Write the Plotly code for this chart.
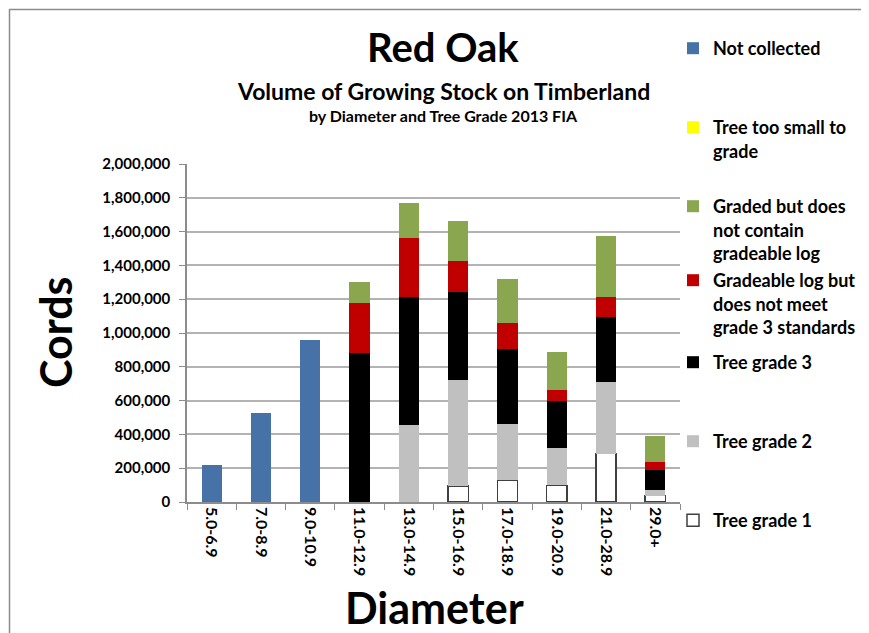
import plotly.graph_objects as go

categories = ["5.0-6.9", "7.0-8.9", "9.0-10.9", "11.0-12.9", "13.0-14.9",
              "15.0-16.9", "17.0-18.9", "19.0-20.9", "21.0-28.9", "29.0+"]
grade1 = [None, None, None, None, None, 95000, 130000, 99000, 287000, 38000]
grade2 = [None, None, None, None, 456000, 626000, 332000, 221000, 426000, 35000]
grade3 = [None, None, None, 883000, 759000, 522000, 445000, 275000, 384000, 119000]
gradeable_log = [None, None, None, 297000, 350000, 186000, 154000, 69000, 118000, 43000]
graded_no_log = [None, None, None, 120000, 205000, 235000, 257000, 225000, 358000, 156000]
too_small = [None] * 10
not_collected = [220000, 524000, 956000, None, None, None, None, None, None, None]

y_ticks = [0, 200000, 400000, 600000, 800000, 1000000, 1200000, 1400000, 1600000, 1800000, 2000000]

FONT = "Lato"
OFF = 8  # page body margin
W, H = 869 - OFF, 633 - OFF
L, T = 187 - OFF, 164 - OFF
R = W - (680 - OFF)
B = H - (502 - OFF)
PW, PH = W - L - R, H - T - B


def px_x(px):
    return (px - OFF - L) / PW


def px_y(py):
    return (H - B - (py - OFF)) / PH


series = [
    ("Tree grade 1", grade1, "#FFFFFF", dict(color="#404040", width=1.5), "legend7", 520),
    ("Tree grade 2", grade2, "#C0C0C0", dict(width=0), "legend6", 441),
    ("Tree grade 3", grade3, "#000000", dict(width=0), "legend5", 362),
    ("Gradeable log but<br>does not meet<br>grade 3 standards", gradeable_log, "#C00000", dict(width=0), "legend4", 280),
    ("Graded but does<br>not contain<br>gradeable log", graded_no_log, "#8AA64E", dict(width=0), "legend3", 206),
    ("Tree too small to<br>grade", too_small, "#FFFF00", dict(width=0), "legend2", 127),
    ("Not collected", not_collected, "#4672A8", dict(width=0), "legend", 48),
]

fig = go.Figure()
layout_legends = {}
for name, vals, color, line, leg, ypix in series:
    fig.add_trace(go.Bar(
        x=categories, y=vals, name=name,
        marker=dict(color=color, line=line),
        legend=leg, showlegend=True,
    ))
    layout_legends[leg] = dict(
        x=px_x(673), xanchor="left",
        y=px_y(ypix - 18), yanchor="top",
        bgcolor="rgba(0,0,0,0)", borderwidth=0,
        font=dict(family=FONT, size=18, color="#000000", weight="bold"),
        valign="top", itemclick=False, itemdoubleclick=False,
        tracegroupgap=0,
    )


def label(text, x, y, size, angle=0):
    return dict(text=text, x=px_x(x), y=px_y(y), xref="paper", yref="paper",
                xanchor="center", yanchor="middle", showarrow=False,
                textangle=angle,
                font=dict(family=FONT, size=size, weight="bold", color="#000"))


annotations = [
    label("Red Oak", 443, 47, 40),
    label("Volume of Growing Stock on Timberland", 443, 91, 23),
    label("by Diameter and Tree Grade 2013 FIA", 443, 116, 16),
    label("Cords", 55, 333, 43, -90),
    label("Diameter", 434, 607, 43),
]

shapes = [
    dict(type="line", xref="paper", yref="paper", x0=px_x(9), x1=px_x(900),
         y0=px_y(9.5), y1=px_y(9.5), line=dict(color="#8C8C8C", width=1.5)),
    dict(type="line", xref="paper", yref="paper", x0=px_x(9.5), x1=px_x(9.5),
         y0=px_y(9), y1=px_y(700), line=dict(color="#8C8C8C", width=1.5)),
]

fig.update_layout(
    width=W, height=H,
    margin=dict(l=L, r=R, t=T, b=B, autoexpand=False),
    paper_bgcolor="#FFFFFF", plot_bgcolor="#FFFFFF",
    barmode="stack", bargap=0.59,
    font=dict(family=FONT, color="#000000"),
    annotations=annotations, shapes=shapes,
    **layout_legends,
)
fig.update_xaxes(
    type="category", tickangle=90, tickson="boundaries", ticks="outside",
    ticklen=6, tickcolor="#8C8C8C", showline=True, linecolor="#8C8C8C",
    linewidth=1.5, showgrid=False,
    tickfont=dict(family=FONT, size=16, weight="bold", color="#000"),
)
fig.update_yaxes(
    range=[0, 2000000], tickvals=y_ticks, tickformat=",d",
    ticks="outside", ticklen=6, tickcolor="#8C8C8C",
    showline=True, linecolor="#8C8C8C", linewidth=1.5,
    showgrid=True, gridcolor="#B3B3B3", gridwidth=1.5, zeroline=False,
    tickfont=dict(family=FONT, size=15, weight="bold", color="#000"),
    ticklabelstandoff=6,
)

fig.write_html("out.html")
